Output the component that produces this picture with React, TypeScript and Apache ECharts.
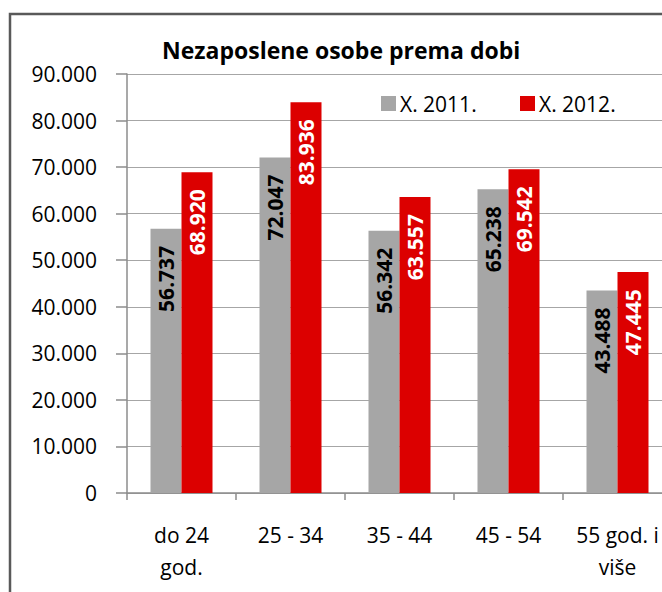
import React, { useEffect, useRef } from "react";
import * as echarts from "echarts";

const categories = ["do 24\ngod.", "25 - 34", "35 - 44", "45 - 54", "55 god. i\nviše"];
const series2011 = [56737, 72047, 56342, 65238, 43488];
const series2012 = [68920, 83936, 63557, 69542, 47445];
const seriesNames = ["X. 2011.", "X. 2012."];
const titleText = "Nezaposlene osobe prema dobi";

const FONT = "'Open Sans', Lato, sans-serif";

function fmt(v: number): string {
  if (v === 0) return "0";
  const s = Math.round(v).toString();
  return s.replace(/\B(?=(\d{3})+(?!\d))/g, ".");
}

export default function App() {
  const ref = useRef<HTMLDivElement>(null);
  useEffect(() => {
    if (!ref.current) return;
    const chart = echarts.init(ref.current, null, { renderer: "svg" });
    const labelBase = {
      show: true,
      position: "insideTop" as const,
      rotate: 90,
      align: "right" as const,
      verticalAlign: "middle" as const,
      distance: 17,
      fontFamily: FONT,
      fontSize: 21,
      fontWeight: "bold" as const,
      formatter: (p: any) => fmt(p.value),
    };
    const legendBase = {
      top: 88,
      itemWidth: 15,
      itemHeight: 15,
      icon: "rect",
      textStyle: { fontFamily: FONT, fontSize: 21, color: "#000", padding: [0, 0, 0, -1] },
    };
    chart.setOption({
      animation: false,
      backgroundColor: "#ffffff",
      title: {
        text: titleText,
        left: 157,
        top: 33,
        textStyle: { fontFamily: FONT, fontSize: 23, fontWeight: "bold", color: "#000" },
      },
      legend: [
        { ...legendBase, left: 376, data: [seriesNames[0]] },
        { ...legendBase, left: 515, data: [seriesNames[1]] },
      ],
      grid: { left: 127, top: 74, right: 28, bottom: 99, containLabel: false },
      xAxis: {
        type: "category",
        data: categories,
        axisLine: { lineStyle: { color: "#8c8c8c", width: 1.5 } },
        axisTick: { show: true, length: 7, lineStyle: { color: "#8c8c8c", width: 1.5 } },
        axisLabel: {
          fontFamily: FONT,
          fontSize: 21,
          color: "#000",
          lineHeight: 32,
          margin: 26,
        },
      },
      yAxis: {
        type: "value",
        min: 0,
        max: 90000,
        interval: 10000,
        axisLine: { show: true, lineStyle: { color: "#8c8c8c", width: 1.5 } },
        axisTick: { show: true, length: 11, lineStyle: { color: "#8c8c8c", width: 1.5 } },
        splitLine: { lineStyle: { color: "#a6a6a6", width: 1 } },
        axisLabel: {
          fontFamily: FONT,
          fontSize: 21,
          color: "#000",
          margin: 30,
          formatter: (v: number) => fmt(v),
        },
      },
      series: [
        {
          name: seriesNames[0],
          type: "bar",
          data: series2011,
          barWidth: 31,
          barGap: "0%",
          itemStyle: { color: "#a6a6a6" },
          label: { ...labelBase, color: "#000" },
        },
        {
          name: seriesNames[1],
          type: "bar",
          data: series2012,
          barWidth: 31,
          barGap: "0%",
          itemStyle: { color: "#dc0000" },
          label: { ...labelBase, color: "#fff" },
        },
      ],
      graphic: [
        {
          type: "rect",
          shape: { x: 10, y: 14, width: 800, height: 700 },
          style: { fill: "none", stroke: "#595959", lineWidth: 2.5 },
          silent: true,
          z: 100,
        },
      ],
    });
    return () => chart.dispose();
  }, []);
  return (
    <div style={{ position: "fixed", left: 0, top: 0, width: 662, height: 592, overflow: "hidden", background: "#fff" }}>
      <div ref={ref} style={{ width: 700, height: 592 }} />
    </div>
  );
}
